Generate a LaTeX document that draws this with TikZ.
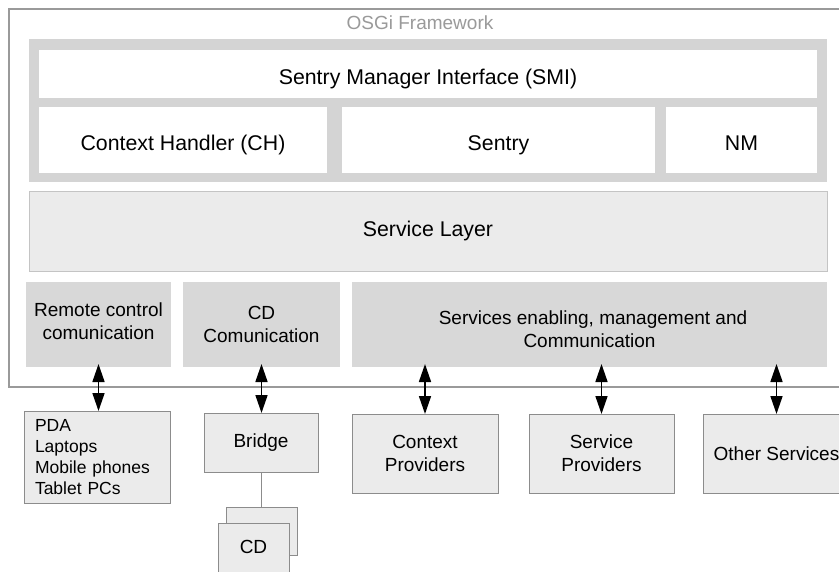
\documentclass[tikz,border=0pt]{standalone}
\usepackage{fontspec}
\setmainfont{Liberation Sans}
\usetikzlibrary{arrows.meta}
\definecolor{framegray}{HTML}{9A9A9A}
\definecolor{bandgray}{HTML}{D4D4D4}
\definecolor{layerfill}{HTML}{EBEBEB}
\definecolor{layerline}{HTML}{C4C4C4}
\definecolor{commfill}{HTML}{D8D8D8}
\definecolor{devfill}{HTML}{EBEBEB}
\definecolor{devline}{HTML}{8C8C8C}
\newcommand{\bigtxt}{\fontsize{21.3}{25}\selectfont}
\newcommand{\midtxt}{\fontsize{19}{23}\selectfont}
\newcommand{\smalltxt}{\fontsize{17.5}{21}\selectfont}
% two-line label, zero-size box shifted by #1
\newcommand{\lines}[2]{\raisebox{#1}[0pt][0pt]{\begin{tabular}{@{}c@{}}#2\end{tabular}}}
\begin{document}
\begin{tikzpicture}[x=1pt,y=-1pt,
  blk/.style={inner sep=0pt, outer sep=0pt, align=center},
  whitebox/.style={blk, fill=white, font=\bigtxt, text height=21pt, text depth=0pt},
  commbox/.style={blk, fill=commfill, font=\midtxt},
  devbox/.style={blk, fill=devfill, draw=devline, line width=1pt, font=\midtxt},
  link/.style={line width=1.6pt, shorten <=-3pt, {Triangle[length=18pt,width=12pt]}-{Triangle[length=18pt,width=12pt]}}
]
\useasboundingbox (0,0) rectangle (839,571);
\clip (0,0) rectangle (839,571);
\fill[white] (0,0) rectangle (839,571);

% OSGi framework container
\node[blk, draw=framegray, line width=1.2pt, minimum width=836, minimum height=378] (osgi) at (427,198) {};
\node[font=\midtxt, text=framegray] (osgilbl) at (420,23) {OSGi Framework};

% Sentry manager band
\node[blk, fill=bandgray, minimum width=798, minimum height=143] (band) at (428,110.5) {};
\node[whitebox, minimum width=778, minimum height=48] (smi) at (428,74) {Sentry Manager Interface (SMI)};
\node[whitebox, minimum width=288, minimum height=66] (ch) at (183,140) {Context Handler (CH)};
\node[whitebox, minimum width=313, minimum height=66] (sentry) at (498.5,140) {Sentry};
\node[whitebox, minimum width=151, minimum height=66] (nm) at (741.5,140) {NM};

% Service layer
\node[blk, fill=layerfill, draw=layerline, line width=0.8pt, font=\bigtxt, minimum width=798, minimum height=80] (svc) at (428,231) {Service Layer};

% Communication modules
\node[commbox, minimum width=145, minimum height=85] (remote) at (98.5,324.5) {\lines{-3pt}{Remote control\\comunication}};
\node[commbox, minimum width=157, minimum height=85] (cdcom) at (261.5,324.5) {\lines{-6pt}{CD\\Comunication}};
\node[commbox, minimum width=475, minimum height=85] (enab) at (589.5,324.5) {\lines{-11pt}{\hspace*{7pt}Services enabling, management and\\Communication}};

% External parties
\node[devbox, font=\smalltxt, align=left, text width=124, minimum width=146, minimum height=92] (dev) at (97,457) {PDA\\Laptops\\Mobile phones\\Tablet PCs};
\node[devbox, minimum width=114, minimum height=59] (bridge) at (261,442.5) {Bridge};
\node[devbox, minimum width=71, minimum height=48] (cdback) at (261.5,531) {};
\node[devbox, minimum width=71, minimum height=57] (cdfront) at (253.5,551.5) {\raisebox{-2.3pt}[0pt][0pt]{CD}};
\node[devbox, minimum width=146, minimum height=79] (ctx) at (425,453.5) {Context\\Providers};
\node[devbox, minimum width=145, minimum height=79] (sp) at (601.5,453.5) {Service\\Providers};
\node[devbox, minimum width=147, minimum height=79] (other) at (776.5,453.5) {Other Services};

% Connections
\draw[link] (remote.south) -- (remote.south |- dev.north);
\draw[link] (cdcom.south) -- (cdcom.south |- bridge.north);
\draw[link] (ctx.north |- enab.south) -- (ctx.north);
\draw[link] (sp.north |- enab.south) -- (sp.north);
\draw[link] (other.north |- enab.south) -- (other.north);
\draw[devline, line width=1pt] (bridge.south) -- (bridge.south |- cdback.north);
\end{tikzpicture}
\end{document}
